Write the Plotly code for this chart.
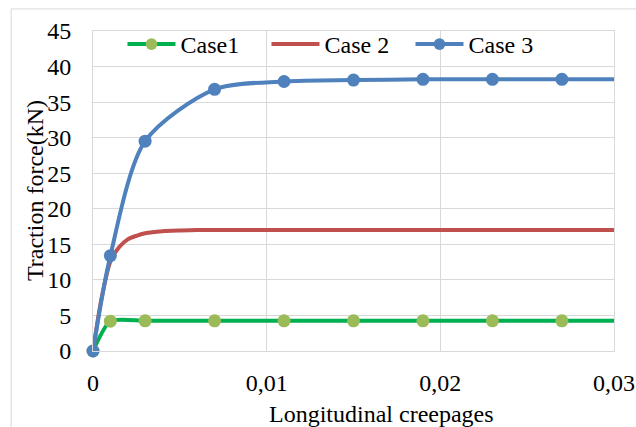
import plotly.graph_objects as go

# Data
x_marked = [0, 0.001, 0.003, 0.007, 0.011, 0.015, 0.019, 0.023, 0.027, 0.03]
case1 = [0, 4.2, 4.25, 4.25, 4.25, 4.25, 4.25, 4.25, 4.25, 4.25]
case3 = [0, 13.4, 29.5, 36.8, 37.9, 38.1, 38.2, 38.2, 38.2, 38.2]

x_case2 = [0, 0.0005, 0.001, 0.0015, 0.002, 0.0025, 0.003, 0.004, 0.005, 0.006,
           0.008, 0.01, 0.015, 0.02, 0.025, 0.03]
case2 = [0, 7.5, 12.6, 14.6, 15.7, 16.2, 16.55, 16.85, 16.95, 17.0,
         17.0, 17.0, 17.0, 17.0, 17.0, 17.0]

x_ticks = [0, 0.01, 0.02, 0.03]
x_ticktext = ["0", "0,01", "0,02", "0,03"]
y_ticks = [0, 5, 10, 15, 20, 25, 30, 35, 40, 45]
x_title = "Longitudinal creepages"
y_title = "Traction force(kN)"

BLUE = "#4F81BD"
RED = "#C0504D"
GREEN_LINE = "#00B050"
GREEN_MARK = "#9BBB59"
GRID = "#D9D9D9"
FONT = "Liberation Serif, Times New Roman, serif"
F = dict(family=FONT, size=24, color="black")

msize = [13] * (len(x_marked) - 1) + [0]

fig = go.Figure()
fig.add_trace(go.Scatter(
    x=x_marked, y=case1, name="Case1", mode="lines+markers",
    line=dict(color=GREEN_LINE, width=4, shape="spline", smoothing=0.6),
    marker=dict(color=GREEN_MARK, size=msize, opacity=1, line=dict(width=0, color=GREEN_MARK)),
    cliponaxis=False,
))
fig.add_trace(go.Scatter(
    x=x_case2, y=case2, name="Case 2", mode="lines",
    line=dict(color=RED, width=4, shape="spline", smoothing=0.8),
    cliponaxis=False,
))
fig.add_trace(go.Scatter(
    x=x_marked, y=case3, name="Case 3", mode="lines+markers",
    line=dict(color=BLUE, width=4, shape="spline", smoothing=0.8),
    marker=dict(color=BLUE, size=msize, opacity=1, line=dict(width=0, color=BLUE)),
    cliponaxis=False,
))

fig.update_layout(
    template="none",
    width=636, height=427,
    margin=dict(l=93, r=22, t=31, b=76, autoexpand=False),
    paper_bgcolor="white", plot_bgcolor="white",
    font=F,
    showlegend=True,
    legend=dict(
        orientation="h", x=0.0566, y=0.958, xanchor="left", yanchor="middle",
        bgcolor="rgba(0,0,0,0)", itemwidth=48, font=F,
        entrywidth=81, entrywidthmode="pixels",
        itemclick=False,
    ),
    xaxis=dict(
        range=[0, 0.03], tickvals=x_ticks, ticktext=x_ticktext,
        tickfont=F, automargin=False,
        showgrid=True, gridcolor=GRID, gridwidth=1, zeroline=False,
        showline=True, linecolor=GRID, linewidth=1, mirror=True,
        ticks="", ticklabelstandoff=10,
    ),
    yaxis=dict(
        range=[0, 45], tickvals=y_ticks,
        tickfont=F, automargin=False,
        showgrid=True, gridcolor=GRID, gridwidth=1, zeroline=False,
        showline=True, linecolor=GRID, linewidth=1, mirror=True,
        ticks="", ticklabelstandoff=16,
    ),
    annotations=[
        dict(text=x_title, xref="paper", yref="paper", x=0.5547, y=-0.197,
             xanchor="center", yanchor="middle", showarrow=False, font=F),
        dict(text=y_title, xref="paper", yref="paper", x=-0.1113, y=0.5,
             xanchor="center", yanchor="middle", textangle=-90, showarrow=False, font=F),
    ],
    shapes=[dict(
        type="rect", xref="paper", yref="paper",
        x0=-0.157, x1=1.2, y0=-0.4, y1=1.069,
        line=dict(color=GRID, width=1), fillcolor="rgba(0,0,0,0)", layer="below",
    )],
)

fig.write_html("out.html")
